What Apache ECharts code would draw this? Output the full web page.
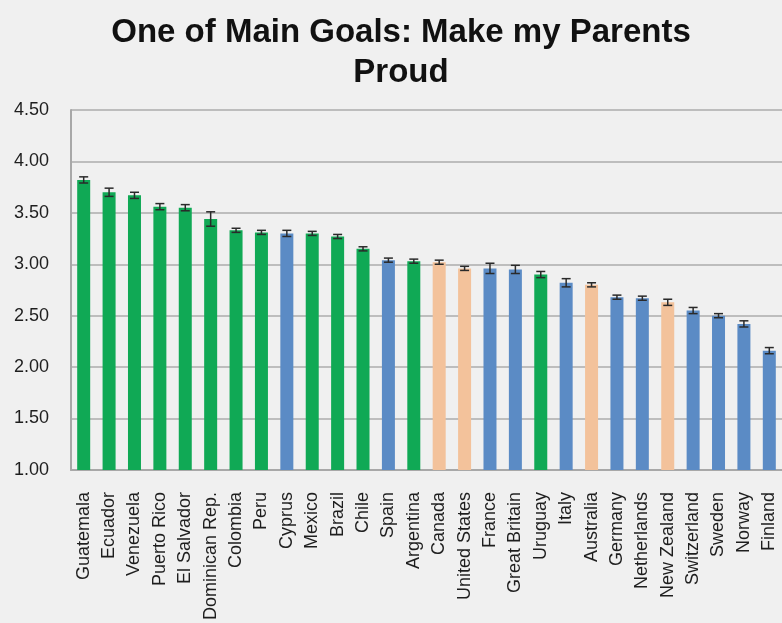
<!DOCTYPE html>
<html>
<head>
<meta charset="utf-8">
<script src="https://cdn.jsdelivr.net/npm/echarts@6/dist/echarts.min.js"></script>
<style>
  html, body { margin: 0; padding: 0; background: #f0f0f0; }
  #chart { width: 782px; height: 623px; }
</style>
</head>
<body>
<div id="chart"></div>
<script>
// countries, mean score, error (+/-) and group colour key
const countries = ['Guatemala', 'Ecuador', 'Venezuela', 'Puerto Rico', 'El Salvador', 'Dominican Rep.', 'Colombia', 'Peru',
  'Cyprus', 'Mexico', 'Brazil', 'Chile', 'Spain', 'Argentina', 'Canada', 'United States', 'France', 'Great Britain',
  'Uruguay', 'Italy', 'Australia', 'Germany', 'Netherlands', 'New Zealand', 'Switzerland', 'Sweden', 'Norway', 'Finland']
const scores = [3.82, 3.70, 3.67, 3.56, 3.55, 3.44, 3.33, 3.31, 3.30, 3.30, 3.27, 3.15, 3.04, 3.03, 3.02, 2.96, 2.96, 2.95,
  2.90, 2.82, 2.80, 2.68, 2.67, 2.63, 2.55, 2.50, 2.42, 2.16]
const errors = [0.03, 0.04, 0.03, 0.03, 0.03, 0.07, 0.02, 0.02, 0.03, 0.02, 0.02, 0.02, 0.02, 0.02, 0.02, 0.02, 0.05, 0.04,
  0.03, 0.04, 0.02, 0.02, 0.02, 0.03, 0.03, 0.02, 0.03, 0.03]
const groups = ['g', 'g', 'g', 'g', 'g', 'g', 'g', 'g', 'b', 'g', 'g', 'g', 'b', 'g', 'o', 'o', 'b', 'b',
  'g', 'b', 'o', 'b', 'b', 'o', 'b', 'b', 'b', 'b']
const yTicks = ['1.00', '1.50', '2.00', '2.50', '3.00', '3.50', '4.00', '4.50']

const groupColors = { g: '#10a955', b: '#5b8bc5', o: '#f3c29b' }

const chart = echarts.init(document.getElementById('chart'))

const option = {
  backgroundColor: '#f0f0f0',
  animation: false,
  title: {
    text: 'One of Main Goals: Make my Parents\nProud',
    left: 396,
    textAlign: 'center',
    top: 8,
    textStyle: {
      fontFamily: 'Liberation Sans, Arial, sans-serif',
      fontSize: 33,
      fontWeight: 'bold',
      color: '#111',
      lineHeight: 40
    }
  },
  grid: {
    left: 71,
    right: 0,
    top: 110,
    bottom: 152
  },
  xAxis: {
    type: 'category',
    data: countries,
    axisLine: { lineStyle: { color: '#a8a8a8', width: 2 } },
    axisTick: { show: false },
    axisLabel: {
      rotate: 90,
      interval: 0,
      margin: 22,
      fontFamily: 'Liberation Sans, Arial, sans-serif',
      fontSize: 18,
      color: '#1e1e1e'
    }
  },
  yAxis: {
    type: 'value',
    min: 1,
    max: 4.5,
    interval: 0.5,
    axisLine: { show: true, lineStyle: { color: '#a8a8a8', width: 2 } },
    axisTick: { show: false },
    splitLine: { lineStyle: { color: '#bdbdbd', width: 2 } },
    axisLabel: {
      margin: 22,
      fontFamily: 'Liberation Sans, Arial, sans-serif',
      fontSize: 18,
      color: '#1e1e1e',
      formatter: (v) => yTicks[Math.round((v - 1) / 0.5)]
    }
  },
  series: [
    {
      type: 'bar',
      barWidth: 13,
      data: scores.map((v, i) => ({
        value: v,
        itemStyle: { color: groupColors[groups[i]] }
      }))
    },
    {
      type: 'custom',
      z: 5,
      data: scores.map((v, i) => [i, v - errors[i], v + errors[i]]),
      renderItem: function (params, api) {
        const lo = api.coord([api.value(0), api.value(1)])
        const hi = api.coord([api.value(0), api.value(2)])
        const hw = 4.5
        const style = { stroke: '#2a2a2a', lineWidth: 1.5 }
        return {
          type: 'group',
          children: [
            { type: 'line', shape: { x1: lo[0], y1: lo[1], x2: hi[0], y2: hi[1] }, style },
            { type: 'line', shape: { x1: lo[0] - hw, y1: lo[1], x2: lo[0] + hw, y2: lo[1] }, style },
            { type: 'line', shape: { x1: hi[0] - hw, y1: hi[1], x2: hi[0] + hw, y2: hi[1] }, style }
          ]
        }
      }
    }
  ]
}

chart.setOption(option)
</script>
</body>
</html>
